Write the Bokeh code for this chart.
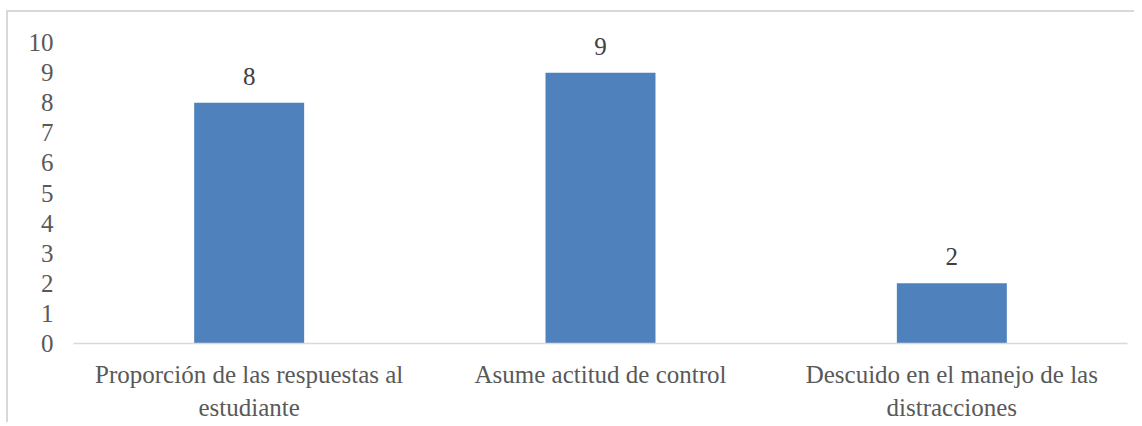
from bokeh.plotting import figure
from bokeh.models import ColumnDataSource, LabelSet, FactorRange, Range1d, Spacer, FixedTicker
from bokeh.layouts import column, row
from bokeh.embed import file_html
from bokeh.resources import INLINE

categories = ["Proporción de las respuestas al\nestudiante",
              "Asume actitud de control",
              "Descuido en el manejo de las\ndistracciones"]
values = [8, 9, 2]
y_ticks = list(range(0, 11))

FONT = "Liberation Serif"
TXT = "#595959"

src = ColumnDataSource(dict(cat=categories, val=values, lab=[str(v) for v in values]))

p = figure(x_range=FactorRange(*categories), y_range=Range1d(0, 10.9),
           width=1128, height=412, output_backend="svg", toolbar_location=None,
           min_border_left=65, min_border_right=9, min_border_top=3, min_border_bottom=79)
p.styles = {"border-top": "2px solid #d9d9d9", "border-left": "2px solid #d9d9d9"}
p.outline_line_color = None
p.xgrid.grid_line_color = None
p.ygrid.grid_line_color = None
p.x_range.range_padding = 0

p.vbar(x="cat", top="val", width=0.313, source=src, fill_color="#4f81bd", line_color=None)

labels = LabelSet(x="cat", y="val", text="lab", source=src, text_align="center",
                  text_baseline="bottom", y_offset=18, text_font_size="25px",
                  text_color="#404040", text_font=FONT)
p.add_layout(labels)

p.yaxis.ticker = FixedTicker(ticks=y_ticks)
p.yaxis.axis_line_color = None
p.yaxis.major_tick_line_color = None
p.yaxis.minor_tick_line_color = None
p.yaxis.major_label_standoff = 14
p.yaxis.major_label_text_font = FONT
p.yaxis.major_label_text_font_size = "25px"
p.yaxis.major_label_text_color = TXT

p.xaxis.axis_line_color = "#d9d9d9"
p.xaxis.axis_line_width = 1.5
p.xaxis.major_tick_line_color = None
p.xaxis.minor_tick_line_color = None
p.xaxis.major_label_standoff = 11
p.xaxis.major_label_text_font = FONT
p.xaxis.major_label_text_font_size = "25px"
p.xaxis.major_label_text_color = TXT
p.xaxis.major_label_text_line_height = 1.25

layout = row(Spacer(width=6), column(Spacer(height=10), p, spacing=0), spacing=0)
open("out.html", "w").write(file_html(layout, INLINE))
